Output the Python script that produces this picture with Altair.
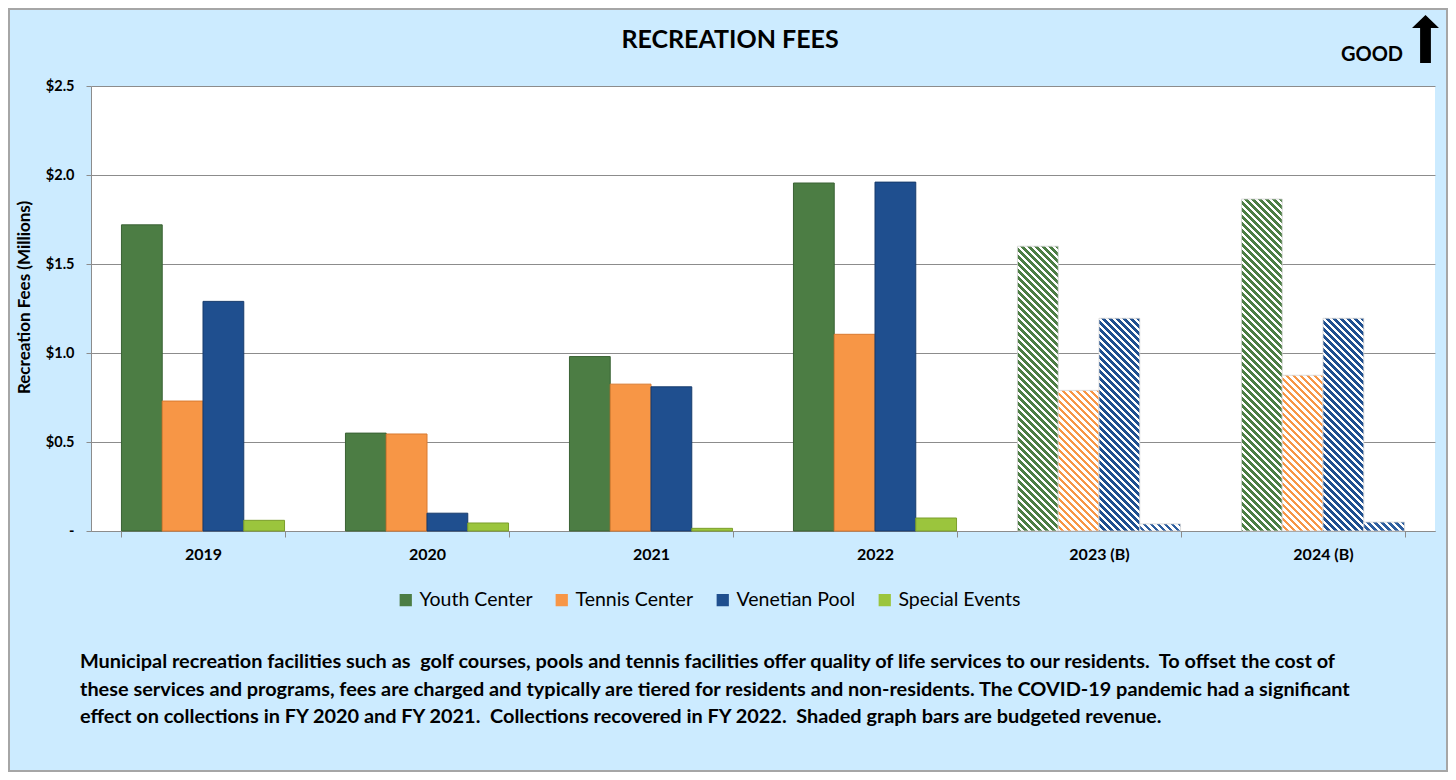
import altair as alt
import pandas as pd

# ---- data ----
years = ["2019", "2020", "2021", "2022", "2023 (B)", "2024 (B)"]
budget_years = ["2023 (B)", "2024 (B)"]
series = ["Youth Center", "Tennis Center", "Venetian Pool", "Special Events"]
youth = [1.72, 0.55, 0.98, 1.955, 1.60, 1.865]
tennis = [0.73, 0.545, 0.825, 1.105, 0.79, 0.875]
pool = [1.29, 0.10, 0.81, 1.96, 1.195, 1.195]
special = [0.06, 0.045, 0.015, 0.073, 0.04, 0.05]
y_ticks = [0, 0.5, 1.0, 1.5, 2.0, 2.5]

title_text = "RECREATION FEES"
good_text = "GOOD"
y_title = "Recreation Fees (Millions)"
NB = "\u00a0"
description = [
    f"Municipal recreation facilities such as {NB}golf courses, pools and tennis facilities offer quality of life services to our residents. {NB}To offset the cost of",
    "these services and programs, fees are charged and typically are tiered for residents and non-residents. The COVID-19 pandemic had a significant",
    f"effect on collections in FY 2020 and FY 2021. {NB}Collections recovered in FY 2022. {NB}Shaded graph bars are budgeted revenue.",
]

# ---- styling ----
colors = ["#4C7D44", "#F79646", "#1F4F8F", "#9BC53D"]
edge_colors = ["#3A6234", "#D97A30", "#163B6C", "#7B9E2C"]
hatch_colors = ["#4C7D44", "#F79646", "#1F4F8F", "#2F5F9F"]
FONT = "Lato"
W, H = 1344, 445
YMAX = 2.5
PAD_INNER = 0.272
PAD_OUTER = 0.136
HATCH_PERIOD = 7.0

rows = []
for i, yr in enumerate(years):
    for s, vals in zip(series, [youth, tennis, pool, special]):
        rows.append({"year": yr, "series": s, "value": vals[i],
                     "budget": yr in budget_years})
df = pd.DataFrame(rows)

step = W / (len(years) - PAD_INNER + 2 * PAD_OUTER)
bar_w = step * (1 - PAD_INNER) / len(series)


def hatch(color, value):
    """Diagonal stripe fill built as a hard-stop linear gradient."""
    h = max(value / YMAX * H, 1.0)
    w = bar_w
    span = h + w
    k = span / (w * w + h * h)
    stops = []
    i = 0
    while i * HATCH_PERIOD / span < 1:
        a = i * HATCH_PERIOD / span
        b = min((i + 0.5) * HATCH_PERIOD / span, 1.0)
        c = min((i + 1) * HATCH_PERIOD / span, 1.0)
        stops += [{"offset": a, "color": color}, {"offset": b, "color": color},
                  {"offset": b, "color": "#ffffff"}, {"offset": c, "color": "#ffffff"}]
        i += 1
    return {"gradient": "linear", "x1": 1, "y1": 0, "x2": 1 - k * w, "y2": k * h,
            "stops": stops}


conds = []
for yr in budget_years:
    for s, c, vals in zip(series, hatch_colors, [youth, tennis, pool, special]):
        v = vals[years.index(yr)]
        conds.append({"test": f"datum.year === '{yr}' && datum.series === '{s}'",
                      "value": hatch(c, v)})

x_enc = alt.X("year:N", sort=years,
              scale=alt.Scale(domain=years, paddingInner=PAD_INNER, paddingOuter=PAD_OUTER),
              axis=alt.Axis(title=None, labelAngle=0, tickBand="extent", tickSize=6,
                            labelFontSize=16, labelPadding=9, grid=False))
xo_enc = alt.XOffset("series:N", sort=series,
                     scale=alt.Scale(domain=series, paddingInner=0, paddingOuter=0))
y_enc = alt.Y("value:Q",
              scale=alt.Scale(domain=[0, YMAX], nice=False, zero=True),
              axis=alt.Axis(values=y_ticks, title=y_title, tickSize=5,
                            labelExpr="datum.value == 0 ? '-\u00a0\u00a0' : '$' + format(datum.value, '.1f')",
                            labelFontSize=14.5, labelPadding=12,
                            titleFontSize=17, titlePadding=12, titleY=211, grid=True))

base = alt.Chart(df)

actual = base.transform_filter("!datum.budget").mark_bar(strokeWidth=1).encode(
    x=x_enc, xOffset=xo_enc, y=y_enc,
    fill=alt.Fill("series:N", sort=series,
                  scale=alt.Scale(domain=series, range=colors),
                  legend=alt.Legend(title=None, orient="none", legendX=305, legendY=504,
                                    direction="horizontal", columns=4,
                                    symbolType="square", symbolSize=150,
                                    symbolStrokeWidth=0,
                                    labelFont=FONT, labelFontSize=19.5,
                                    labelFontWeight="normal", labelColor="#000000",
                                    columnPadding=19, labelOffset=4)),
    stroke=alt.Stroke("series:N", sort=series,
                      scale=alt.Scale(domain=series, range=edge_colors), legend=None),
)

budget = base.transform_filter("datum.budget").mark_bar(
    stroke="#d4d4d4", strokeWidth=0.8).encode(
    x=x_enc, xOffset=xo_enc, y=y_enc,
    fill={"condition": conds, "value": "#ffffff"},
)

one = pd.DataFrame({"t": [0]})

title = alt.Chart(one).mark_text(
    text=title_text, font=FONT, fontSize=25, fontWeight="bold", color="#000000",
    align="center", baseline="alphabetic").encode(x=alt.value(639), y=alt.value(-38))

good = alt.Chart(one).mark_text(
    text=good_text, font=FONT, fontSize=20, fontWeight="bold", color="#000000",
    align="center", baseline="alphabetic").encode(x=alt.value(1281), y=alt.value(-25))

arrow = alt.Chart(one).mark_point(
    shape="M0,-1.78L1,-0.81L0.4,-0.81L0.4,1.78L-0.4,1.78L-0.4,-0.81L-1,-0.81Z",
    size=729, filled=True, fill="#000000", strokeWidth=0, opacity=1).encode(
    x=alt.value(1334.5), y=alt.value(-47))

desc = alt.Chart(one).mark_text(
    text=description, font=FONT, fontSize=19.9, fontWeight="bold", color="#000000",
    align="left", baseline="middle", lineHeight=27.5).encode(
    x=alt.value(-11), y=alt.value(576))

border = alt.Chart(one).mark_rect(
    fillOpacity=0, stroke="#a6a6a6", strokeWidth=2).encode(
    x=alt.value(-82), x2=alt.value(1356), y=alt.value(-77), y2=alt.value(685))

chart = alt.layer(actual, budget, title, good, arrow, desc, border).properties(
    width=W, height=H,
    autosize=alt.AutoSizeParams(type="none"),
    padding={"left": 83, "top": 78, "right": 13, "bottom": 241},
).configure(
    background="#CCEBFF",
    font=FONT,
).configure_view(
    fill="#ffffff", strokeWidth=0,
).configure_axis(
    labelFont=FONT, labelFontWeight="bold", labelColor="#000000",
    titleFont=FONT, titleFontWeight="bold", titleColor="#000000",
    domainColor="#8c8c8c", tickColor="#8c8c8c", gridColor="#8c8c8c",
    domainWidth=1, tickWidth=1, gridWidth=1,
)

chart.save("out.html", embed_options={"renderer": "svg", "actions": False})
